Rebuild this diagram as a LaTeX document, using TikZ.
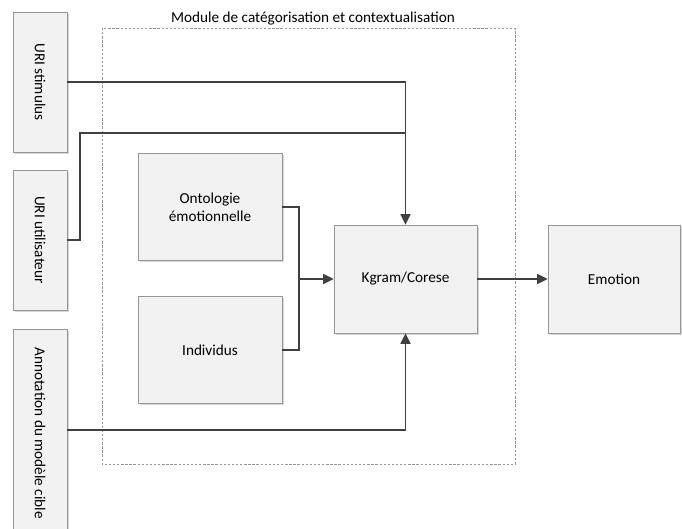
\documentclass[tikz,border=0pt]{standalone}
\usepackage{fontspec}
\setmainfont{Carlito}
\usetikzlibrary{arrows.meta,positioning,shadows}
\definecolor{boxline}{RGB}{150,150,150}
\definecolor{boxfill}{RGB}{242,242,242}
\definecolor{wire}{RGB}{64,64,64}

\tikzset{
  block/.style={draw=boxline,fill=boxfill,inner sep=0pt,align=center,font=\fontsize{13}{15.5}\selectfont,
    drop shadow={shadow xshift=1.5pt,shadow yshift=-1.5pt,fill=black!45,opacity=.35}},
  wireline/.style={draw=wire,line width=1.3pt},
  wirearrow/.style={wireline,-{Triangle[length=9pt,width=8.5pt]}}
}

\begin{document}
\begin{tikzpicture}[x=0.03cm,y=-0.03cm]
        \useasboundingbox (0,0) rectangle (682,528);
        % module frame
        \draw[boxline,dash pattern=on 2pt off 1.5pt] (102,28) rectangle (515,464);
        \node[font=\fontsize{13}{15.5}\selectfont] (title) at (313,19) {Module de catégorisation et contextualisation};
        % inputs
        \node[block,minimum width=1.62cm,minimum height=4.2cm] (stim) at (40,82) {\rotatebox{-90}{URI stimulus}};
        \node[block,minimum width=1.62cm,minimum height=4.2cm] (user) at (40,240) {\rotatebox{-90}{URI utilisateur}};
        \node[block,minimum width=1.62cm,minimum height=6.2cm] (annot) at (40,433) {\rotatebox{-90}{Annotation du modèle cible}};
        % knowledge
        \node[block,minimum width=4.32cm,minimum height=3.21cm] (onto) at (210,207) {Ontologie\\émotionnelle};
        \node[block,minimum width=4.32cm,minimum height=3.21cm] (indiv) at (210,350) {Individus};
        \node[block,minimum width=4.29cm,minimum height=3.24cm] (kgram) at (405.5,279) {Kgram/Corese};
        \node[block,minimum width=3.96cm,minimum height=3.24cm] (emo) at (614,279) {Emotion};
        % connectors
        \coordinate (join) at (299,279);
        \draw[wirearrow] (stim.east) -| (kgram.north);
        \draw[wireline] (user.east) -- ++(13,0) |- (kgram.north |- 0,133);
        \draw[wireline] (onto.east) -| (join);
        \draw[wireline] (indiv.east) -| (join);
        \draw[wirearrow] (join) -- (kgram.west);
        \draw[wirearrow] (annot.east |- 0,430) -| (kgram.south);
        \draw[wirearrow] (kgram.east) -- (emo.west);
      \end{tikzpicture}
\end{document}
